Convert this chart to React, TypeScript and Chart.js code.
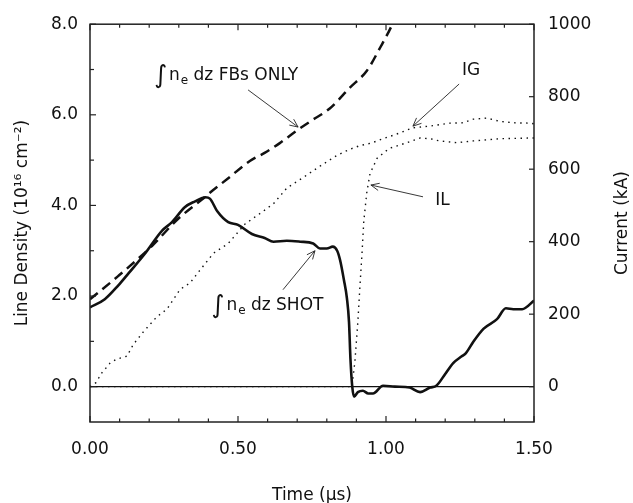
import { useEffect, useRef } from 'react';
import { Chart, registerables } from 'chart.js';

Chart.register(...registerables);

// ---------- data ----------
const shotTime = [0.0, 0.05, 0.095, 0.13, 0.186, 0.243, 0.277, 0.32, 0.355, 0.39, 0.405, 0.43, 0.467, 0.5, 0.547, 0.59, 0.62, 0.665, 0.71, 0.754, 0.777, 0.8, 0.82, 0.835, 0.845, 0.858, 0.868, 0.875, 0.88, 0.886, 0.892, 0.905, 0.922, 0.94, 0.956, 0.99, 1.03, 1.08, 1.115, 1.149, 1.17, 1.2, 1.227, 1.256, 1.27, 1.295, 1.33, 1.375, 1.405, 1.43, 1.46, 1.5];
const shotDensity = [1.75, 1.93, 2.23, 2.5, 2.94, 3.44, 3.63, 3.96, 4.09, 4.18, 4.15, 3.87, 3.63, 3.57, 3.37, 3.28, 3.2, 3.22, 3.2, 3.16, 3.05, 3.05, 3.09, 3.0, 2.79, 2.35, 1.95, 1.43, 0.6, 0.0, -0.22, -0.12, -0.09, -0.15, -0.15, 0.02, 0.0, -0.02, -0.12, -0.02, 0.02, 0.28, 0.52, 0.67, 0.74, 0.99, 1.28, 1.49, 1.73, 1.71, 1.71, 1.9];

const fbTime = [0.0, 0.095, 0.21, 0.297, 0.378, 0.405, 0.467, 0.54, 0.59, 0.64, 0.7, 0.75, 0.81, 0.878, 0.936, 0.98, 1.02, 1.04];
const fbDensity = [1.93, 2.44, 3.11, 3.7, 4.13, 4.28, 4.6, 4.98, 5.16, 5.37, 5.66, 5.88, 6.14, 6.6, 6.98, 7.48, 7.98, 8.3];

const igTime = [0.0, 0.02, 0.04, 0.068, 0.09, 0.125, 0.146, 0.18, 0.225, 0.26, 0.304, 0.338, 0.372, 0.417, 0.467, 0.524, 0.58, 0.62, 0.665, 0.733, 0.78, 0.834, 0.878, 0.912, 0.95, 0.99, 1.047, 1.09, 1.149, 1.216, 1.26, 1.295, 1.34, 1.385, 1.43, 1.486, 1.5];
const igCurrent = [0, 11, 38, 65, 76, 84, 116, 151, 192, 214, 268, 286, 322, 368, 395, 449, 481, 505, 548, 584, 610, 638, 655, 665, 672, 684, 700, 714, 719, 727, 728, 738, 741, 732, 728, 727, 725];

const ilTime = [0.0, 0.885, 0.895, 0.905, 0.912, 0.919, 0.925, 0.935, 0.946, 0.97, 1.01, 1.07, 1.115, 1.15, 1.18, 1.24, 1.295, 1.385, 1.486, 1.5];
const ilCurrent = [0, 0, 70, 180, 278, 368, 457, 535, 588, 630, 657, 673, 686, 684, 678, 673, 678, 684, 686, 686];

const timeRange = [0, 1.5];
const densityRange = [-0.78, 8];
const currentRange = [-97.5, 1000];
const timeTicks = [0, 0.5, 1.0, 1.5];
const densityTicks = [0, 2, 4, 6, 8];
const densityMinorTicks = [1, 3, 5, 7];
const currentTicks = [0, 200, 400, 600, 800, 1000];

// annotation anchors in data units (time, density)
const fbLabel = { t: 0.216, v: 6.77, text: 'FBs ONLY' };
const fbArrow = { t1: 0.534, v1: 6.55, t2: 0.703, v2: 5.73 };
const shotLabel = { t: 0.41, v: 1.69, text: 'SHOT' };
const shotArrow = { t1: 0.652, v1: 2.14, t2: 0.76, v2: 3.0 };
const igLabel = { t: 1.257, v: 6.88, text: 'IG' };
const igArrow = { t1: 1.247, v1: 6.68, t2: 1.091, v2: 5.75 };
const ilLabel = { t: 1.166, v: 4.02, text: 'IL' };
const ilArrow = { t1: 1.125, v1: 4.19, t2: 0.949, v2: 4.45 };

const FONT = '"DejaVu Sans", sans-serif';
const INK = '#111';

const zip = (xs: number[], ys: number[]) => xs.map((x, i) => ({ x, y: ys[i] }));

const overlay = {
  id: 'overlay',
  beforeDatasetsDraw(chart: any) {
    const { ctx, chartArea: a, scales } = chart;
    const y0 = scales.y.getPixelForValue(0);
    ctx.save();
    ctx.strokeStyle = INK;
    ctx.lineWidth = 1.2;
    ctx.beginPath();
    ctx.moveTo(a.left, y0);
    ctx.lineTo(a.right, y0);
    ctx.stroke();
    ctx.restore();
  },
  afterDatasetsDraw(chart: any) {
    const { ctx, chartArea: a, scales } = chart;
    const sx = scales.x, sy = scales.y, sy1 = scales.y1;
    ctx.save();
    ctx.strokeStyle = '#222';
    ctx.lineWidth = 1.5;
    ctx.strokeRect(a.left, a.top, a.right - a.left, a.bottom - a.top);
    const seg = (x1: number, y1: number, x2: number, y2: number) => {
      ctx.beginPath();
      ctx.moveTo(x1, y1);
      ctx.lineTo(x2, y2);
      ctx.stroke();
    };
    ctx.lineWidth = 1.2;
    // x ticks (every 0.1, inward, top and bottom)
    for (let i = 0; i <= 15; i++) {
      const px = sx.getPixelForValue(i / 10);
      const len = i % 5 === 0 ? 6 : 3.5;
      seg(px, a.bottom, px, a.bottom - len);
      seg(px, a.top, px, a.top + len);
    }
    densityTicks.forEach((v) => {
      const py = sy.getPixelForValue(v);
      seg(a.left, py, a.left + 6, py);
    });
    densityMinorTicks.forEach((v) => {
      const py = sy.getPixelForValue(v);
      seg(a.left, py, a.left + 4, py);
    });
    currentTicks.forEach((v) => {
      const py = sy1.getPixelForValue(v);
      seg(a.right, py, a.right - 5, py);
    });

    // arrows
    ctx.lineWidth = 0.9;
    const arrow = (ar: any) => {
      const x1 = sx.getPixelForValue(ar.t1), y1 = sy.getPixelForValue(ar.v1);
      const x2 = sx.getPixelForValue(ar.t2), y2 = sy.getPixelForValue(ar.v2);
      seg(x1, y1, x2, y2);
      const ang = Math.atan2(y2 - y1, x2 - x1);
      const L = 9, w = 0.42;
      seg(x2, y2, x2 - L * Math.cos(ang - w), y2 - L * Math.sin(ang - w));
      seg(x2, y2, x2 - L * Math.cos(ang + w), y2 - L * Math.sin(ang + w));
    };
    [fbArrow, shotArrow, igArrow, ilArrow].forEach(arrow);

    // labels
    ctx.fillStyle = INK;
    ctx.textAlign = 'left';
    ctx.textBaseline = 'alphabetic';
    const integral = (lab: any) => {
      let cx = sx.getPixelForValue(lab.t);
      const yb = sy.getPixelForValue(lab.v);
      ctx.font = `25px ${FONT}`;
      ctx.fillText('\u222B', cx, yb + 3);
      cx += ctx.measureText('\u222B').width + 2;
      ctx.font = `17px ${FONT}`;
      ctx.fillText('n', cx, yb);
      cx += ctx.measureText('n').width + 1;
      ctx.font = `12px ${FONT}`;
      ctx.fillText('e', cx, yb + 4);
      cx += ctx.measureText('e').width;
      ctx.font = `17px ${FONT}`;
      ctx.fillText(' dz ' + lab.text, cx, yb);
    };
    integral(fbLabel);
    integral(shotLabel);
    ctx.font = `17px ${FONT}`;
    [igLabel, ilLabel].forEach((lab) => {
      ctx.fillText(lab.text, sx.getPixelForValue(lab.t), sy.getPixelForValue(lab.v));
    });

    // right axis title, reading bottom-to-top
    ctx.save();
    ctx.translate(623, (a.top + a.bottom) / 2);
    ctx.rotate(-Math.PI / 2);
    ctx.textAlign = 'center';
    ctx.textBaseline = 'middle';
    ctx.fillText('Current (kA)', 0, 0);
    ctx.restore();
    ctx.restore();
  },
};

export default function App() {
  const ref = useRef<HTMLCanvasElement | null>(null);
  useEffect(() => {
    if (!ref.current) return;
    Chart.defaults.font.family = FONT;
    Chart.defaults.font.size = 17;
    Chart.defaults.color = INK;
    const chart = new Chart(ref.current, {
      type: 'line',
      data: {
        datasets: [
          {
            label: 'SHOT',
            data: zip(shotTime, shotDensity),
            yAxisID: 'y',
            borderColor: INK,
            borderWidth: 2.6,
            pointRadius: 0,
            cubicInterpolationMode: 'monotone',
            fill: false,
          },
          {
            label: 'FBs ONLY',
            data: zip(fbTime, fbDensity),
            yAxisID: 'y',
            borderColor: INK,
            borderWidth: 2.5,
            borderDash: [10, 6],
            pointRadius: 0,
            cubicInterpolationMode: 'monotone',
            fill: false,
          },
          {
            label: 'IG',
            data: zip(igTime, igCurrent),
            yAxisID: 'y1',
            borderColor: INK,
            borderWidth: 1.4,
            borderDash: [1.5, 4.5],
            pointRadius: 0,
            tension: 0,
            fill: false,
          },
          {
            label: 'IL',
            data: zip(ilTime, ilCurrent),
            yAxisID: 'y1',
            borderColor: INK,
            borderWidth: 1.4,
            borderDash: [1.5, 4.5],
            pointRadius: 0,
            tension: 0,
            fill: false,
          },
        ],
      },
      options: {
        animation: false,
        responsive: false,
        devicePixelRatio: 1,
        layout: { padding: { top: 16, left: 0, right: 0, bottom: 0 } },
        plugins: { legend: { display: false }, tooltip: { enabled: false } },
        scales: {
          x: {
            type: 'linear',
            min: timeRange[0],
            max: timeRange[1],
            grid: { display: false, drawTicks: false },
            border: { display: false },
            afterBuildTicks: (s: any) => {
              s.ticks = timeTicks.map((v) => ({ value: v }));
            },
            afterFit: (s: any) => {
              s.height = 81;
            },
            ticks: {
              padding: 17,
              autoSkip: false,
              maxRotation: 0,
              callback: (v: any) => Number(v).toFixed(2),
            },
            title: { display: true, text: 'Time (µs)', padding: { top: 0, bottom: -3 } },
          },
          y: {
            position: 'left',
            min: densityRange[0],
            max: densityRange[1],
            grid: { display: false, drawTicks: false },
            border: { display: false },
            afterBuildTicks: (s: any) => {
              s.ticks = densityTicks.map((v) => ({ value: v }));
            },
            afterFit: (s: any) => {
              s.width = 90;
            },
            ticks: { padding: 12, callback: (v: any) => Number(v).toFixed(1) },
            title: { display: true, text: 'Line Density (10¹⁶ cm⁻²)', padding: { top: 12, bottom: 0 } },
          },
          y1: {
            position: 'right',
            min: currentRange[0],
            max: currentRange[1],
            grid: { display: false, drawTicks: false },
            border: { display: false },
            afterBuildTicks: (s: any) => {
              s.ticks = currentTicks.map((v) => ({ value: v }));
            },
            afterFit: (s: any) => {
              s.width = 99;
            },
            ticks: { padding: 14, callback: (v: any) => String(v) },
            title: { display: false },
          },
        },
      },
      plugins: [overlay],
    } as any);
    return () => chart.destroy();
  }, []);
  return (
    <canvas
      ref={ref}
      width={633}
      height={503}
      style={{ position: 'fixed', left: 0, top: 0, display: 'block', width: 633, height: 503 }}
    />
  );
}
